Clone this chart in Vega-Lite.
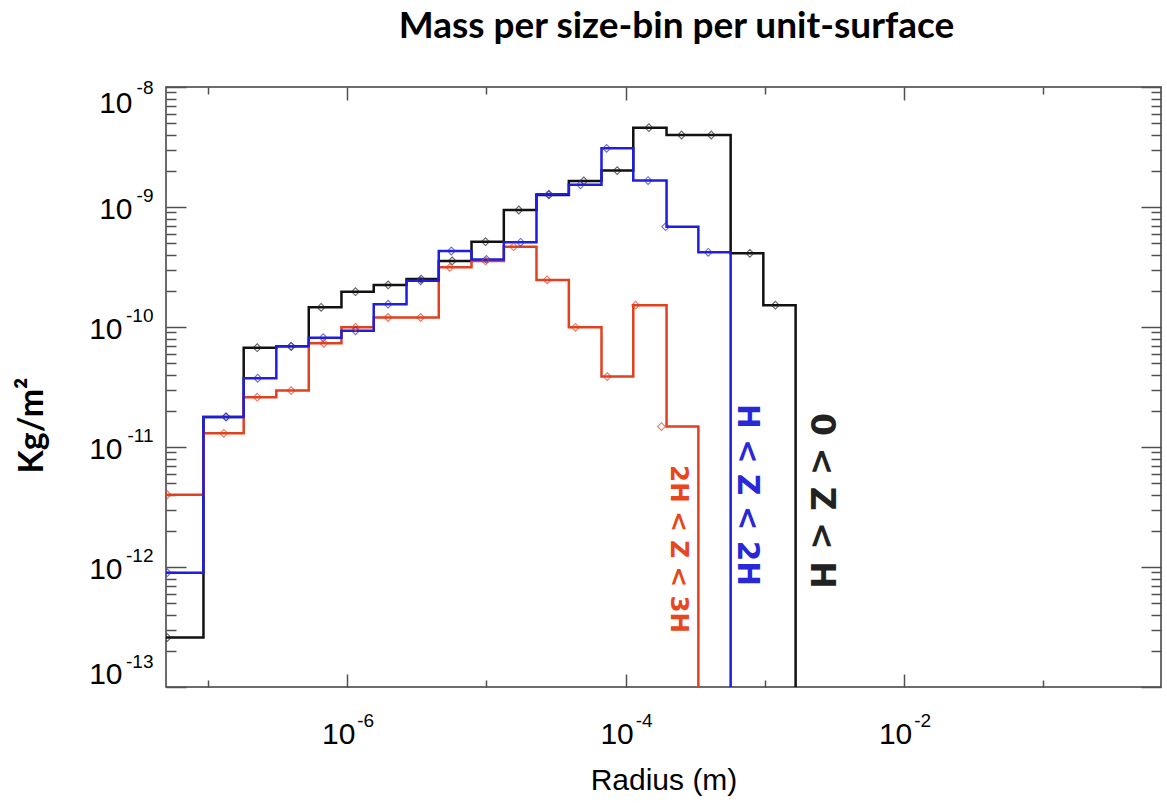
{
  "$schema": "https://vega.github.io/schema/vega-lite/v6.json",
  "width": 995,
  "height": 600,
  "autosize": {"type": "none"},
  "padding": {"left": 166, "top": 87, "right": 6, "bottom": 118},
  "title": {"text": "Mass per size-bin per unit-surface", "font": "Lato", "fontWeight": "bold", "fontSize": 37, "color": "#000000", "anchor": "middle", "frame": "group", "dx": 13, "offset": 32},
  "config": {
    "view": {"stroke": "#3c3c3c", "strokeWidth": 1.5},
    "axis": {"grid": false, "domain": false, "tickColor": "#505050", "tickWidth": 1.5, "labelFont": "Liberation Sans", "labelFontSize": 30, "labelColor": "#000000", "titleFont": "Liberation Sans", "titleFontWeight": "normal", "titleColor": "#000000"}
  },
  "datasets": {
    "bins": [
      {"s": "0 < Z < H", "lo": 4e-8, "v": 2.58e-13, "r": 5.1e-8},
      {"s": "0 < Z < H", "lo": 9.29e-8, "v": 1.78e-11, "r": 1.35e-7},
      {"s": "0 < Z < H", "lo": 1.807e-7, "v": 6.72e-11, "r": 2.26e-7},
      {"s": "0 < Z < H", "lo": 3.1e-7, "v": 6.9e-11, "r": 3.96e-7},
      {"s": "0 < Z < H", "lo": 5.3e-7, "v": 1.46e-10, "r": 6.5e-7},
      {"s": "0 < Z < H", "lo": 9.1e-7, "v": 1.97e-10, "r": 1.148e-6},
      {"s": "0 < Z < H", "lo": 1.552e-6, "v": 2.24e-10, "r": 1.97e-6},
      {"s": "0 < Z < H", "lo": 2.67e-6, "v": 2.51e-10, "r": 3.4e-6},
      {"s": "0 < Z < H", "lo": 4.55e-6, "v": 3.55e-10, "r": 5.68e-6},
      {"s": "0 < Z < H", "lo": 7.82e-6, "v": 5.14e-10, "r": 9.86e-6},
      {"s": "0 < Z < H", "lo": 1.334e-5, "v": 9.44e-10, "r": 1.71e-5},
      {"s": "0 < Z < H", "lo": 2.29e-5, "v": 1.26e-9, "r": 2.81e-5},
      {"s": "0 < Z < H", "lo": 3.91e-5, "v": 1.65e-9, "r": 5.01e-5},
      {"s": "0 < Z < H", "lo": 6.71e-5, "v": 2.01e-9, "r": 8.7e-5},
      {"s": "0 < Z < H", "lo": 1.135e-4, "v": 4.58e-9, "r": 1.47e-4},
      {"s": "0 < Z < H", "lo": 1.968e-4, "v": 3.98e-9, "r": 2.52e-4},
      {"s": "0 < Z < H", "lo": 3.33e-4, "v": 3.98e-9, "r": 4.12e-4},
      {"s": "0 < Z < H", "lo": 5.68e-4, "v": 4.11e-10, "r": 7.8e-4},
      {"s": "0 < Z < H", "lo": 9.75e-4, "v": 1.52e-10, "r": 1.19e-3},
      {"s": "0 < Z < H", "lo": 1.663e-3, "v": 1e-16},
      {"s": "H < Z < 2H", "lo": 4e-8, "v": 8.97e-13, "r": 5.1e-8},
      {"s": "H < Z < 2H", "lo": 9.29e-8, "v": 1.78e-11, "r": 1.35e-7},
      {"s": "H < Z < 2H", "lo": 1.807e-7, "v": 3.74e-11, "r": 2.28e-7},
      {"s": "H < Z < 2H", "lo": 3.1e-7, "v": 6.9e-11, "r": 3.96e-7},
      {"s": "H < Z < 2H", "lo": 5.3e-7, "v": 8.14e-11, "r": 6.73e-7},
      {"s": "H < Z < 2H", "lo": 9.1e-7, "v": 9.31e-11, "r": 1.148e-6},
      {"s": "H < Z < 2H", "lo": 1.552e-6, "v": 1.55e-10, "r": 1.97e-6},
      {"s": "H < Z < 2H", "lo": 2.67e-6, "v": 2.43e-10, "r": 3.37e-6},
      {"s": "H < Z < 2H", "lo": 4.55e-6, "v": 4.3e-10, "r": 5.6e-6},
      {"s": "H < Z < 2H", "lo": 7.82e-6, "v": 3.66e-10, "r": 1.0e-5},
      {"s": "H < Z < 2H", "lo": 1.334e-5, "v": 5.08e-10, "r": 1.76e-5},
      {"s": "H < Z < 2H", "lo": 2.29e-5, "v": 1.28e-9, "r": 2.81e-5},
      {"s": "H < Z < 2H", "lo": 3.91e-5, "v": 1.53e-9, "r": 4.74e-5},
      {"s": "H < Z < 2H", "lo": 6.71e-5, "v": 3.08e-9, "r": 7.3e-5},
      {"s": "H < Z < 2H", "lo": 1.135e-4, "v": 1.66e-9, "r": 1.45e-4},
      {"s": "H < Z < 2H", "lo": 1.968e-4, "v": 6.86e-10, "r": 1.94e-4},
      {"s": "H < Z < 2H", "lo": 3.33e-4, "v": 4.19e-10, "r": 3.92e-4},
      {"s": "H < Z < 2H", "lo": 5.68e-4, "v": 1e-16},
      {"s": "2H < Z < 3H", "lo": 4e-8, "v": 4.0e-12, "r": 5.1e-8},
      {"s": "2H < Z < 3H", "lo": 9.29e-8, "v": 1.3e-11, "r": 1.3e-7},
      {"s": "2H < Z < 3H", "lo": 1.807e-7, "v": 2.6e-11, "r": 2.26e-7},
      {"s": "2H < Z < 3H", "lo": 3.1e-7, "v": 2.95e-11, "r": 3.96e-7},
      {"s": "2H < Z < 3H", "lo": 5.3e-7, "v": 7.31e-11, "r": 6.8e-7},
      {"s": "2H < Z < 3H", "lo": 9.1e-7, "v": 9.94e-11, "r": 1.148e-6},
      {"s": "2H < Z < 3H", "lo": 1.552e-6, "v": 1.2e-10, "r": 1.97e-6},
      {"s": "2H < Z < 3H", "lo": 2.67e-6, "v": 1.2e-10, "r": 3.37e-6},
      {"s": "2H < Z < 3H", "lo": 4.55e-6, "v": 3.14e-10, "r": 5.46e-6},
      {"s": "2H < Z < 3H", "lo": 7.82e-6, "v": 3.55e-10, "r": 9.86e-6},
      {"s": "2H < Z < 3H", "lo": 1.334e-5, "v": 4.67e-10, "r": 1.57e-5},
      {"s": "2H < Z < 3H", "lo": 2.29e-5, "v": 2.47e-10, "r": 2.73e-5},
      {"s": "2H < Z < 3H", "lo": 3.91e-5, "v": 9.94e-11, "r": 4.36e-5},
      {"s": "2H < Z < 3H", "lo": 6.71e-5, "v": 3.86e-11, "r": 7.38e-5},
      {"s": "2H < Z < 3H", "lo": 1.135e-4, "v": 1.52e-10, "r": 1.18e-4},
      {"s": "2H < Z < 3H", "lo": 1.968e-4, "v": 1.48e-11, "r": 1.81e-4},
      {"s": "2H < Z < 3H", "lo": 3.33e-4, "v": 1e-16}
    ],
    "labels": [
      {"s": "2H < Z < 3H", "x": 2.36e-4, "y": 1.41e-12},
      {"s": "H < Z < 2H", "x": 7.39e-4, "y": 3.98e-12},
      {"s": "0 < Z < H", "x": 2.51e-3, "y": 3.55e-12}
    ]
  },
  "data": {"name": "bins"},
  "resolve": {"axis": {"x": "independent", "y": "independent"}},
  "layer": [
    {
      "transform": [{"filter": "datum.s == '0 < Z < H'"}],
      "mark": {"type": "line", "interpolate": "step-after", "color": "#111111", "strokeWidth": 2.5, "clip": true},
      "encoding": {
        "x": {"field": "lo", "type": "quantitative", "scale": {"type": "log", "domain": [5e-8, 0.7], "nice": false},
          "axis": {"orient": "bottom", "values": [1e-6, 1e-4, 1e-2], "tickSize": -13, "labelPadding": 69, "labelBaseline": "alphabetic", "labelOffset": -9,
            "labelExpr": "'10'",
            "title": "Radius (m)", "titleFontSize": 30, "titleY": 78}},
        "y": {"field": "v", "type": "quantitative", "scale": {"type": "log", "domain": [1e-13, 1e-8], "nice": false},
          "axis": {"orient": "left", "values": [1e-13, 1e-12, 1e-11, 1e-10, 1e-9, 1e-8], "tickSize": -20, "labelBaseline": "alphabetic",
            "labelPadding": {"condition": {"test": "datum.value < 5e-10", "value": 64}, "value": 54},
            "labelOffset": {"condition": [{"test": "datum.value < 5e-13", "value": -4}, {"test": "datum.value > 5e-9", "value": 25}], "value": 11},
            "labelExpr": "'10'",
            "title": "Kg/m²", "titleFont": "Lato", "titleFontWeight": "bold", "titleFontSize": 34, "titleX": -117, "titleY": 338}}
      }
    },
    {
      "transform": [{"filter": "datum.s == '2H < Z < 3H'"}],
      "mark": {"type": "line", "interpolate": "step-after", "color": "#e2411f", "strokeWidth": 2.5, "clip": true},
      "encoding": {
        "x": {"field": "lo", "type": "quantitative", "scale": {"type": "log", "domain": [5e-8, 0.7], "nice": false},
          "axis": {"orient": "bottom", "values": [1e-7, 1e-5, 1e-3, 1e-1], "tickSize": -7, "labels": false, "title": null}},
        "y": {"field": "v", "type": "quantitative", "scale": {"type": "log", "domain": [1e-13, 1e-8], "nice": false},
          "axis": {"orient": "left", "values": [2e-13, 3e-13, 4e-13, 5e-13, 6e-13, 7e-13, 8e-13, 9e-13, 2e-12, 3e-12, 4e-12, 5e-12, 6e-12, 7e-12, 8e-12, 9e-12, 2e-11, 3e-11, 4e-11, 5e-11, 6e-11, 7e-11, 8e-11, 9e-11, 2e-10, 3e-10, 4e-10, 5e-10, 6e-10, 7e-10, 8e-10, 9e-10, 2e-9, 3e-9, 4e-9, 5e-9, 6e-9, 7e-9, 8e-9, 9e-9], "tickSize": -10, "labels": false, "title": null}}
      }
    },
    {
      "transform": [{"filter": "datum.s == 'H < Z < 2H'"}],
      "mark": {"type": "line", "interpolate": "step-after", "color": "#1e1ee0", "strokeWidth": 2.5, "clip": true},
      "encoding": {
        "x": {"field": "lo", "type": "quantitative", "scale": {"type": "log", "domain": [5e-8, 0.7], "nice": false},
          "axis": {"orient": "top", "values": [1e-6, 1e-4, 1e-2], "tickSize": -13, "labels": false, "title": null}},
        "y": {"field": "v", "type": "quantitative", "scale": {"type": "log", "domain": [1e-13, 1e-8], "nice": false},
          "axis": {"orient": "right", "values": [1e-13, 1e-12, 1e-11, 1e-10, 1e-9, 1e-8], "tickSize": -20, "labels": false, "title": null}}
      }
    },
    {
      "transform": [{"filter": "isValid(datum.r)"}],
      "mark": {"type": "point", "shape": "diamond", "filled": false, "size": 60, "strokeWidth": 1.1, "clip": true},
      "encoding": {
        "x": {"field": "r", "type": "quantitative", "scale": {"type": "log", "domain": [5e-8, 0.7], "nice": false},
          "axis": {"orient": "top", "values": [1e-7, 1e-5, 1e-3, 1e-1], "tickSize": -7, "labels": false, "title": null}},
        "y": {"field": "v", "type": "quantitative", "scale": {"type": "log", "domain": [1e-13, 1e-8], "nice": false},
          "axis": {"orient": "right", "values": [2e-13, 3e-13, 4e-13, 5e-13, 6e-13, 7e-13, 8e-13, 9e-13, 2e-12, 3e-12, 4e-12, 5e-12, 6e-12, 7e-12, 8e-12, 9e-12, 2e-11, 3e-11, 4e-11, 5e-11, 6e-11, 7e-11, 8e-11, 9e-11, 2e-10, 3e-10, 4e-10, 5e-10, 6e-10, 7e-10, 8e-10, 9e-10, 2e-9, 3e-9, 4e-9, 5e-9, 6e-9, 7e-9, 8e-9, 9e-9], "tickSize": -10, "labels": false, "title": null}},
        "color": {"field": "s", "type": "nominal", "scale": {"domain": ["0 < Z < H", "H < Z < 2H", "2H < Z < 3H"], "range": ["#222222", "#3030d0", "#e2411f"]}, "legend": null}
      }
    },
    {
      "data": {"name": "labels"},
      "transform": [{"filter": "datum.s == '2H < Z < 3H'"}],
      "mark": {"type": "text", "angle": 90, "font": "DejaVu Sans", "fontWeight": "bold", "align": "center", "baseline": "middle", "fontSize": 24.5, "color": "#e8461c"},
      "encoding": {
        "x": {"field": "x", "type": "quantitative", "scale": {"type": "log", "domain": [5e-8, 0.7], "nice": false},
          "axis": {"orient": "bottom", "values": [1e-6, 1e-4, 1e-2], "ticks": false, "domain": false, "labelFontSize": 19, "labelPadding": 39, "labelBaseline": "alphabetic", "labelOffset": 18,
            "labelExpr": "datum.value < 5e-6 ? '-6' : datum.value < 5e-4 ? '-4' : '-2'", "title": null}},
        "y": {"field": "y", "type": "quantitative", "scale": {"type": "log", "domain": [1e-13, 1e-8], "nice": false},
          "axis": {"orient": "left", "values": [1e-13, 1e-12, 1e-11, 1e-10, 1e-9, 1e-8], "ticks": false, "domain": false, "labelFontSize": 19, "labelPadding": 13, "labelBaseline": "alphabetic",
            "labelOffset": {"condition": [{"test": "datum.value < 5e-13", "value": -20}, {"test": "datum.value > 5e-9", "value": 6}], "value": -6},
            "labelExpr": "datum.value < 5e-13 ? '-13' : datum.value < 5e-12 ? '-12' : datum.value < 5e-11 ? '-11' : datum.value < 5e-10 ? '-10' : datum.value < 5e-9 ? '-9' : '-8'", "title": null}},
        "text": {"field": "s", "type": "nominal"}
      }
    },
    {
      "data": {"name": "labels"},
      "transform": [{"filter": "datum.s == 'H < Z < 2H'"}],
      "mark": {"type": "text", "angle": 90, "font": "DejaVu Sans", "fontWeight": "bold", "align": "center", "baseline": "middle", "fontSize": 29.5, "color": "#2828d8"},
      "encoding": {
        "x": {"field": "x", "type": "quantitative", "scale": {"type": "log", "domain": [5e-8, 0.7], "nice": false}, "axis": null},
        "y": {"field": "y", "type": "quantitative", "scale": {"type": "log", "domain": [1e-13, 1e-8], "nice": false}, "axis": null},
        "text": {"field": "s", "type": "nominal"}
      }
    },
    {
      "data": {"name": "labels"},
      "transform": [{"filter": "datum.s == '0 < Z < H'"}],
      "mark": {"type": "text", "angle": 90, "font": "DejaVu Sans", "fontWeight": "bold", "align": "center", "baseline": "middle", "fontSize": 33, "color": "#222222"},
      "encoding": {
        "x": {"field": "x", "type": "quantitative", "scale": {"type": "log", "domain": [5e-8, 0.7], "nice": false}, "axis": null},
        "y": {"field": "y", "type": "quantitative", "scale": {"type": "log", "domain": [1e-13, 1e-8], "nice": false}, "axis": null},
        "text": {"field": "s", "type": "nominal"}
      }
    }
  ]
}
